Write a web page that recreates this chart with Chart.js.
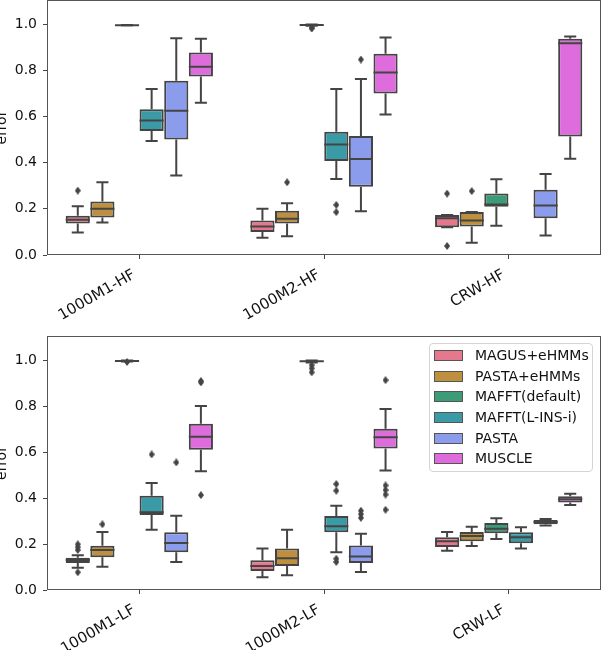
<!DOCTYPE html>
<html>
<head>
<meta charset="utf-8">
<script src="https://cdn.jsdelivr.net/npm/chart.js@4.4.0/dist/chart.umd.min.js"></script>
<style>
  html, body { margin: 0; padding: 0; background: #fff; width: 602px; height: 650px; overflow: hidden; }
  canvas { position: absolute; left: -6px; }
  #cTop { top: 0; }
  #cBot { top: 325px; }
  #legend {
    position: absolute; left: 429px; top: 343px; width: 162px; height: 126px;
    border: 1px solid #d4d4d4; border-radius: 4px; background: rgba(255,255,255,0.85);
    font-family: "DejaVu Sans", sans-serif; font-size: 14px; color: #111; padding-top: 1px;
  }
  .row { position: relative; height: 20.7px; }
  .row span.patch { position: absolute; left: 4px; top: 5px; width: 27px; height: 9px; border: 1px solid #555; }
  .row span.txt { position: absolute; left: 45px; top: 0; line-height: 20.7px; white-space: nowrap; }
</style>
</head>
<body>
<canvas id="cTop" width="608" height="340"></canvas>
<canvas id="cBot" width="608" height="325"></canvas>
<div id="legend"></div>
<script>
const hfCategories = ['1000M1-HF', '1000M2-HF', 'CRW-HF'];
const lfCategories = ['1000M1-LF', '1000M2-LF', 'CRW-LF'];
const methods = ['MAGUS+eHMMs', 'PASTA+eHMMs', 'MAFFT(default)', 'MAFFT(L-INS-i)', 'PASTA', 'MUSCLE'];
const methodColors = ['#e5788c', '#bd8f3e', '#3c9c78', '#3a9aa6', '#8c9cec', '#df6cdc'];
const yTicks = [0, 0.2, 0.4, 0.6, 0.8, 1.0];
const lineGray = '#444444';

// five numbers per category: [low whisker, q1, median, q3, high whisker]
const hfMagus      = [[0.097, 0.136, 0.153, 0.170, 0.211], [0.075, 0.100, 0.124, 0.150, 0.200], [0.120, 0.120, 0.159, 0.173, 0.173]];
const hfPastaEhmm  = [[0.141, 0.163, 0.200, 0.232, 0.315], [0.081, 0.136, 0.157, 0.192, 0.224], [0.053, 0.124, 0.150, 0.186, 0.186]];
const hfMafftDef   = [[0.995, 0.996, 0.996, 0.997, 0.997], [0.993, 0.995, 0.997, 0.998, 0.999], [0.127, 0.209, 0.219, 0.267, 0.328]];
const hfMafftLins  = [[0.494, 0.537, 0.583, 0.632, 0.719], [0.329, 0.407, 0.479, 0.534, 0.719], null];
const hfPasta      = [[0.345, 0.501, 0.625, 0.755, 0.939], [0.190, 0.296, 0.416, 0.516, 0.763], [0.084, 0.159, 0.215, 0.283, 0.351]];
const hfMuscle     = [[0.660, 0.773, 0.816, 0.878, 0.937], [0.609, 0.700, 0.791, 0.872, 0.943], [0.417, 0.513, 0.918, 0.937, 0.947]];

const hfMagusOut     = [[0.279], [], [0.266, 0.039]];
const hfPastaEhmmOut = [[], [0.315], [0.277]];
const hfMafftDefOut  = [[], [0.985, 0.982], []];
const hfMafftLinsOut = [[], [0.217, 0.186], []];
const hfPastaOut     = [[], [0.847], []];
const hfMuscleOut    = [[], [], []];

const lfMagus      = [[0.097, 0.117, 0.130, 0.140, 0.151], [0.055, 0.083, 0.104, 0.129, 0.180], [0.171, 0.187, 0.212, 0.229, 0.252]];
const lfPastaEhmm  = [[0.101, 0.142, 0.174, 0.193, 0.252], [0.064, 0.104, 0.138, 0.180, 0.262], [0.191, 0.212, 0.235, 0.252, 0.275]];
const lfMafftDef   = [[0.994, 0.995, 0.996, 0.997, 0.998], [0.990, 0.993, 0.995, 0.996, 0.998], [0.222, 0.247, 0.267, 0.291, 0.312]];
const lfMafftLins  = [[0.262, 0.326, 0.338, 0.410, 0.465], [0.164, 0.251, 0.277, 0.322, 0.367], [0.180, 0.203, 0.229, 0.251, 0.273]];
const lfPasta      = [[0.122, 0.164, 0.204, 0.251, 0.323], [0.078, 0.117, 0.146, 0.194, 0.245], [0.281, 0.286, 0.296, 0.305, 0.309]];
const lfMuscle     = [[0.517, 0.610, 0.667, 0.723, 0.800], [0.520, 0.616, 0.665, 0.701, 0.787], [0.370, 0.381, 0.395, 0.408, 0.419]];

const lfMagusOut     = [[0.199, 0.186, 0.174, 0.077], [], []];
const lfPastaEhmmOut = [[0.286], [], []];
const lfMafftDefOut  = [[0.992], [0.978, 0.964, 0.947], []];
const lfMafftLinsOut = [[0.590], [0.461, 0.432, 0.136, 0.122], []];
const lfPastaOut     = [[0.555], [0.345, 0.330, 0.314], []];
const lfMuscleOut    = [[0.903, 0.909, 0.413], [0.913, 0.455, 0.435, 0.415, 0.349], []];

const fontFam = '"DejaVu Sans", sans-serif';

// thin diamond marker like matplotlib 'd'
const diamond = document.createElement('canvas');
diamond.width = 6; diamond.height = 8;
(function () {
    const g = diamond.getContext('2d');
    g.fillStyle = lineGray;
    g.beginPath();
    g.moveTo(3, 0); g.lineTo(6, 4); g.lineTo(3, 8); g.lineTo(0, 4);
    g.closePath();
    g.fill();
})();

// hue offset inside a category, like seaborn's dodge (total width 0.8)
function dodge(k) {
    return (k - (methods.length - 1) / 2) * 0.8 / methods.length;
}

// whiskers, caps and medians drawn on top of the floating bars
const boxParts = {
    id: 'boxParts',
    afterDatasetsDraw(chart) {
        const ctx = chart.ctx;
        const y = chart.scales.y;
        ctx.save();
        ctx.strokeStyle = lineGray;
        ctx.lineWidth = 2;
        chart.data.datasets.forEach((ds, di) => {
            if (!ds.stats) return;
            const meta = chart.getDatasetMeta(di);
            meta.data.forEach((bar, i) => {
                const s = ds.stats[i];
                const half = bar.width / 2;
                const cap = bar.width / 4;
                const x = bar.x;
                ctx.beginPath();
                ctx.moveTo(x, y.getPixelForValue(s[3]));
                ctx.lineTo(x, y.getPixelForValue(s[4]));
                ctx.moveTo(x, y.getPixelForValue(s[1]));
                ctx.lineTo(x, y.getPixelForValue(s[0]));
                ctx.moveTo(x - cap, y.getPixelForValue(s[4]));
                ctx.lineTo(x + cap, y.getPixelForValue(s[4]));
                ctx.moveTo(x - cap, y.getPixelForValue(s[0]));
                ctx.lineTo(x + cap, y.getPixelForValue(s[0]));
                ctx.moveTo(x - half, y.getPixelForValue(s[2]));
                ctx.lineTo(x + half, y.getPixelForValue(s[2]));
                ctx.stroke();
            });
        });
        ctx.restore();
    }
};

const frame = {
    id: 'frame',
    afterDraw(chart) {
        const a = chart.chartArea;
        const ctx = chart.ctx;
        ctx.save();
        ctx.strokeStyle = '#555555';
        ctx.lineWidth = 1;
        ctx.strokeRect(Math.round(a.left) + 0.5, Math.round(a.top) + 0.5,
            Math.round(a.right - a.left) - 1, Math.round(a.bottom - a.top) - 1);
        ctx.restore();
    }
};

function buildPanel(canvasId, categories, boxes, fliers, padTop, xHeight) {
    const datasets = methods.map((m, k) => {
        const pts = [];
        const stats = [];
        boxes[k].forEach((s, i) => {
            if (!s) return;
            pts.push({ x: i + dodge(k), y: [s[1], s[3]] });
            stats.push(s);
        });
        return {
            type: 'bar',
            label: m,
            data: pts,
            stats: stats,
            backgroundColor: methodColors[k],
            borderColor: lineGray,
            borderWidth: 2,
            borderSkipped: false,
            grouped: false,
            categoryPercentage: 1,
            barPercentage: 0.98
        };
    });

    const points = [];
    fliers.forEach((perCat, k) => {
        perCat.forEach((vals, i) => {
            vals.forEach(v => points.push({ x: i + dodge(k), y: v }));
        });
    });
    datasets.push({
        type: 'scatter',
        label: 'outliers',
        data: points,
        pointStyle: diamond,
        pointRadius: 4,
        order: -1
    });

    return new Chart(document.getElementById(canvasId), {
        type: 'bar',
        data: { datasets: datasets },
        options: {
            responsive: false,
            animation: false,
            layout: { autoPadding: false, padding: { top: padTop, right: 1, left: 0, bottom: 0 } },
            plugins: { legend: { display: false }, tooltip: { enabled: false } },
            scales: {
                x: {
                    type: 'linear',
                    min: -0.5,
                    max: categories.length - 0.5,
                    offset: false,
                    grid: { offset: false, drawOnChartArea: false, tickLength: 4, tickColor: lineGray, tickWidth: 1 },
                    border: { display: false },
                    ticks: {
                        color: '#111',
                        font: { family: fontFam, size: 15 },
                        minRotation: 30,
                        maxRotation: 30,
                        padding: 7,
                        labelOffset: -5,
                        autoSkip: false,
                        callback: v => categories[Math.round(v)]
                    },
                    afterBuildTicks(scale) {
                        scale.ticks = categories.map((c, i) => ({ value: i }));
                    },
                    afterFit(scale) {
                        scale.height = xHeight;
                        scale.paddingLeft = 0;
                        scale.paddingRight = 0;
                    }
                },
                y: {
                    type: 'linear',
                    min: 0,
                    max: 1.105,
                    grid: { drawOnChartArea: false, tickLength: 4, tickColor: lineGray, tickWidth: 1 },
                    border: { display: false },
                    title: {
                        display: true,
                        text: 'error',
                        color: '#111',
                        font: { family: fontFam, size: 14 },
                        padding: { top: 0, bottom: 0 }
                    },
                    ticks: {
                        color: '#111',
                        font: { family: fontFam, size: 14 },
                        padding: 6,
                        callback: v => Number(v).toFixed(1)
                    },
                    afterBuildTicks(scale) {
                        scale.ticks = yTicks.map(v => ({ value: v }));
                    },
                    afterFit(scale) {
                        scale.width = 53;
                        scale.paddingTop = 0;
                        scale.paddingBottom = 0;
                    }
                }
            }
        },
        plugins: [boxParts, frame]
    });
}

const hfBoxes = [hfMagus, hfPastaEhmm, hfMafftDef, hfMafftLins, hfPasta, hfMuscle];
const hfFliers = [hfMagusOut, hfPastaEhmmOut, hfMafftDefOut, hfMafftLinsOut, hfPastaOut, hfMuscleOut];
const lfBoxes = [lfMagus, lfPastaEhmm, lfMafftDef, lfMafftLins, lfPasta, lfMuscle];
const lfFliers = [lfMagusOut, lfPastaEhmmOut, lfMafftDefOut, lfMafftLinsOut, lfPastaOut, lfMuscleOut];

buildPanel('cTop', hfCategories, hfBoxes, hfFliers, 0, 85);
const lfChart = buildPanel('cBot', lfCategories, lfBoxes, lfFliers, 11, 60);

// legend inside the lower panel, built from the chart's own datasets
const legendEl = document.getElementById('legend');
lfChart.data.datasets.filter(ds => ds.type === 'bar').forEach(ds => {
    const row = document.createElement('div');
    row.className = 'row';
    row.innerHTML = '<span class="patch" style="background:' + ds.backgroundColor + '"></span>' +
        '<span class="txt">' + ds.label + '</span>';
    legendEl.appendChild(row);
});
</script>
</body>
</html>
